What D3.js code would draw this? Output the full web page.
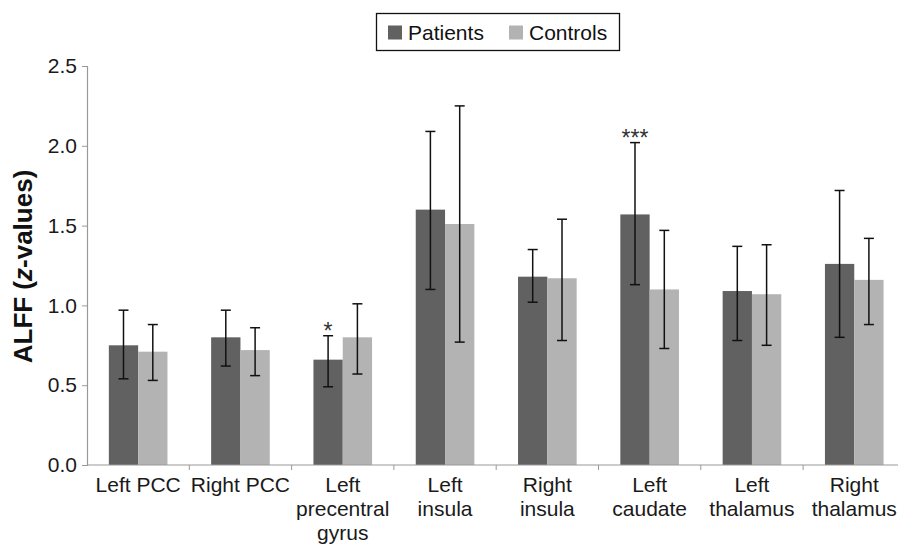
<!DOCTYPE html>
<html>
<head>
<meta charset="utf-8">
<script src="https://cdn.jsdelivr.net/npm/d3@7"></script>
<style>
  body { margin: 0; background: #fff; }
  svg { display: block; font-family: "Liberation Sans", Arial, sans-serif; }
</style>
</head>
<body>
<svg id="chart" width="898" height="546"></svg>
<script>
const categories = [
  ["Left PCC"], ["Right PCC"], ["Left", "precentral", "gyrus"], ["Left", "insula"],
  ["Right", "insula"], ["Left", "caudate"], ["Left", "thalamus"], ["Right", "thalamus"]
];
const seriesNames = ["Patients", "Controls"];
const patientsMean = [0.75, 0.80, 0.66, 1.60, 1.18, 1.57, 1.09, 1.26];
const patientsLow  = [0.54, 0.62, 0.49, 1.10, 1.02, 1.13, 0.78, 0.80];
const patientsHigh = [0.97, 0.97, 0.81, 2.09, 1.35, 2.02, 1.37, 1.72];
const controlsMean = [0.71, 0.72, 0.80, 1.51, 1.17, 1.10, 1.07, 1.16];
const controlsLow  = [0.53, 0.56, 0.57, 0.77, 0.78, 0.73, 0.75, 0.88];
const controlsHigh = [0.88, 0.86, 1.01, 2.25, 1.54, 1.47, 1.38, 1.42];
const significance = ["", "", "*", "", "", "***", "", ""];
const yTicks = [0, 0.5, 1.0, 1.5, 2.0, 2.5];

const colors = { Patients: "#616161", Controls: "#b3b3b3" };
const svg = d3.select("#chart");
const mLeft = 87, mTop = 66, mBottom = 465, plotRight = 905.4;
const catKeys = categories.map(c => c.join(" "));

const pIn = 0.427;
const x0 = d3.scaleBand().domain(catKeys).range([mLeft, plotRight]).paddingInner(pIn).paddingOuter(pIn / 2);
const x1 = d3.scaleBand().domain(seriesNames).range([0, x0.bandwidth()]);
const y = d3.scaleLinear().domain([0, 2.5]).range([mBottom, mTop]);
const step = x0.step();

const rows = catKeys.map((k, i) => ({
  key: k, label: categories[i], sig: significance[i],
  vals: [
    { s: "Patients", m: patientsMean[i], lo: patientsLow[i], hi: patientsHigh[i] },
    { s: "Controls", m: controlsMean[i], lo: controlsLow[i], hi: controlsHigh[i] }
  ]
}));

// bars
const g = svg.append("g");
const grp = g.selectAll("g.cat").data(rows).join("g")
  .attr("transform", d => `translate(${x0(d.key)},0)`);
grp.selectAll("rect").data(d => d.vals).join("rect")
  .attr("x", d => x1(d.s)).attr("width", x1.bandwidth())
  .attr("y", d => y(d.m)).attr("height", d => y(0) - y(d.m))
  .attr("fill", d => colors[d.s]);

// error bars
const eb = grp.selectAll("g.eb").data(d => d.vals).join("g")
  .attr("stroke", "#111").attr("stroke-width", 1.5);
eb.append("line")
  .attr("x1", d => x1(d.s) + x1.bandwidth() / 2).attr("x2", d => x1(d.s) + x1.bandwidth() / 2)
  .attr("y1", d => y(d.hi)).attr("y2", d => y(d.lo));
eb.append("line")
  .attr("x1", d => x1(d.s) + x1.bandwidth() / 2 - 5).attr("x2", d => x1(d.s) + x1.bandwidth() / 2 + 5)
  .attr("y1", d => y(d.hi)).attr("y2", d => y(d.hi));
eb.append("line")
  .attr("x1", d => x1(d.s) + x1.bandwidth() / 2 - 5).attr("x2", d => x1(d.s) + x1.bandwidth() / 2 + 5)
  .attr("y1", d => y(d.lo)).attr("y2", d => y(d.lo));

// significance
grp.filter(d => d.sig).append("text")
  .attr("x", x1("Patients") + x1.bandwidth() / 2)
  .attr("y", d => y(d.vals[0].hi) + 3)
  .attr("text-anchor", "middle")
  .attr("font-size", 23).attr("fill", "#333")
  .text(d => d.sig);

// y axis
const yAxis = d3.axisLeft(y).tickValues(yTicks).tickFormat(d3.format(".1f")).tickSize(5).tickPadding(5);
const ya = svg.append("g").attr("transform", `translate(${mLeft},0)`).call(yAxis);
ya.select(".domain").attr("stroke", "#999").attr("stroke-width", 1.2);
ya.selectAll(".tick line").attr("stroke", "#999");
ya.selectAll(".tick text").attr("font-size", 21).attr("fill", "#1a1a1a")
  .attr("font-family", "Liberation Sans, Arial, sans-serif");

// x axis
svg.append("line").attr("x1", mLeft).attr("x2", 898).attr("y1", mBottom).attr("y2", mBottom)
  .attr("stroke", "#999").attr("stroke-width", 1.2);
svg.selectAll("line.xt").data(catKeys.slice(1)).join("line").attr("class", "xt")
  .attr("x1", d => x0(d) - step * pIn / 2).attr("x2", d => x0(d) - step * pIn / 2)
  .attr("y1", mBottom).attr("y2", mBottom + 5).attr("stroke", "#999");

const xl = svg.selectAll("text.xl").data(rows).join("text").attr("class", "xl")
  .attr("x", d => x0(d.key) + x0.bandwidth() / 2)
  .attr("y", 491.5)
  .attr("text-anchor", "middle").attr("font-size", 21).attr("fill", "#1a1a1a");
xl.selectAll("tspan").data(d => d.label).join("tspan")
  .attr("x", function() { return d3.select(this.parentNode).attr("x"); })
  .attr("dy", (d, i) => i === 0 ? 0 : 24.4)
  .text(d => d);

// y title
const yt = svg.append("text")
  .attr("transform", `translate(32,${(mTop + mBottom) / 2 + 1}) rotate(-90)`)
  .attr("text-anchor", "middle").attr("font-size", 26).attr("font-weight", "bold").attr("fill", "#111");
yt.append("tspan").text("ALFF (");
yt.append("tspan").attr("font-style", "italic").text("z");
yt.append("tspan").text("-values)");

// legend
const lg = svg.append("g");
lg.append("rect").attr("x", 376.5).attr("y", 13.5).attr("width", 243).attr("height", 37)
  .attr("fill", "#fff").attr("stroke", "#111").attr("stroke-width", 1.3);
const legendX = [388, 509];
seriesNames.forEach((s, i) => {
  lg.append("rect").attr("x", legendX[i]).attr("y", 25.5).attr("width", 14).attr("height", 14).attr("fill", colors[s]);
  lg.append("text").attr("x", legendX[i] + 20).attr("y", 39.5).attr("font-size", 21).attr("fill", "#111").text(s);
});
</script>
</body>
</html>
